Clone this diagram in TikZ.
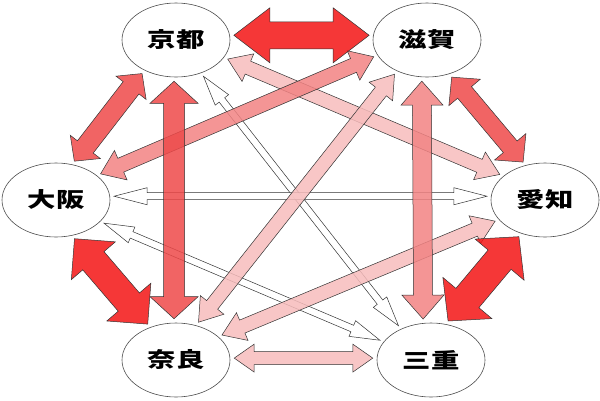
\documentclass[tikz,border=0pt]{standalone}
\usepackage{fontspec}
\newfontfamily\jpfont{Noto Sans CJK JP}
\usetikzlibrary{shapes.geometric,calc}
\definecolor{strongred}{RGB}{243,20,20}
\definecolor{midred}{RGB}{238,73,73}
\definecolor{salmon}{RGB}{242,131,131}
\definecolor{lightpink}{RGB}{247,188,188}
\tikzset{
    pref/.style={ellipse,draw=black!70,line width=0.6pt,minimum width=108pt,minimum height=74pt,inner sep=0pt,font=\jpfont\bfseries\fontsize{21}{21}\selectfont},
    blockarrow/.style={draw=black!80,line width=0.5pt,line join=miter,fill opacity=0.85},
    weak/.style={blockarrow,fill=white},
    light/.style={blockarrow,fill=lightpink},
    medium/.style={blockarrow,fill=salmon},
    heavy/.style={blockarrow,fill=midred},
    strong/.style={blockarrow,fill=strongred},
}
\newcommand{\widetext}[1]{\scalebox{1.35}[1]{#1}}
\newcommand{\dblarrow}[6][]{%
  \coordinate (p) at ($(#2)!4pt!(#3)$);
  \coordinate (q) at ($(#3)!4pt!(#2)$);
  \coordinate (ha) at ($(p)!#6!(q)$);
  \coordinate (hb) at ($(q)!#6!(p)$);
  \draw[#1] (p) -- ($(ha)!#5!90:(q)$) -- ($(ha)!#4!90:(q)$)
    -- ($(hb)!#4!-90:(p)$) -- ($(hb)!#5!-90:(p)$) -- (q)
    -- ($(hb)!#5!90:(p)$) -- ($(hb)!#4!90:(p)$)
    -- ($(ha)!#4!-90:(q)$) -- ($(ha)!#5!-90:(q)$) -- cycle;
}

\begin{document}
\begin{tikzpicture}[x=1pt,y=-1pt]
\useasboundingbox (0,0) rectangle (600,400);
\node[pref] (kyoto) at (176,40) {\widetext{京都}};
\node[pref] (shiga) at (427,40) {\widetext{滋賀}};
\node[pref] (osaka) at (56,200) {\widetext{大阪}};
\node[pref] (aichi) at (545,200) {\widetext{愛知}};
\node[pref] (nara) at (176,360) {\widetext{奈良}};
\node[pref] (mie) at (431,360) {\widetext{三重}};
\dblarrow[weak]{kyoto.307}{mie.134}{3.5pt}{8.5pt}{30pt}
\dblarrow[weak]{osaka.4}{aichi.176}{3.5pt}{8.5pt}{33pt}
\dblarrow[weak]{osaka.334}{mie.159}{3.5pt}{8.5pt}{30pt}
\dblarrow[light]{kyoto.340}{aichi.150}{7pt}{15pt}{22pt}
\dblarrow[light]{shiga.226}{nara.60}{7pt}{15pt}{22pt}
\dblarrow[light]{aichi.203}{nara.29}{7pt}{15pt}{22pt}
\dblarrow[light]{nara.2}{mie.178}{6.5pt}{14pt}{20pt}
\dblarrow[medium]{osaka.31}{shiga.197}{7.5pt}{16pt}{22pt}
\dblarrow[medium]{shiga.262}{mie.102}{9.5pt}{21pt}{24pt}
\dblarrow[heavy]{kyoto.224}{osaka.66}{10pt}{19pt}{18pt}
\dblarrow[heavy]{kyoto.267}{nara.93}{10.5pt}{24pt}{22pt}
\dblarrow[heavy]{shiga.303}{aichi.119}{9pt}{20.5pt}{20pt}
\dblarrow[strong]{kyoto.5}{shiga.175}{13.5pt}{27.5pt}{36pt}
\dblarrow[strong]{osaka.294}{nara.128}{14pt}{29pt}{29pt}
\dblarrow[strong]{aichi.235}{mie.68}{15pt}{32pt}{30pt}
\end{tikzpicture}
\end{document}
